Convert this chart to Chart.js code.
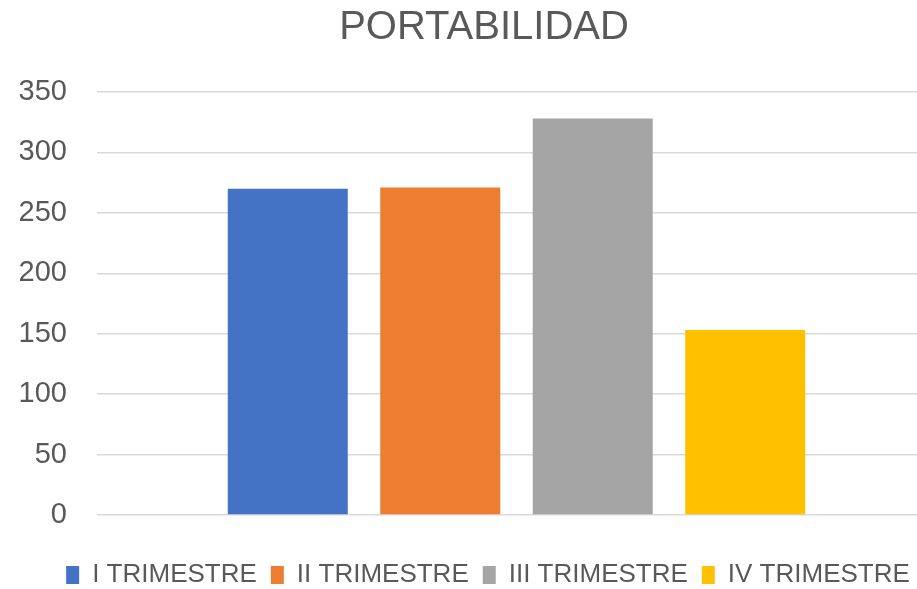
<!DOCTYPE html>
<html>
<head>
<meta charset="utf-8">
<script src="https://cdn.jsdelivr.net/npm/chart.js@4"></script>
<style>
  html, body { margin: 0; padding: 0; background: #ffffff; overflow: hidden; }
  #wrap { width: 917px; height: 589px; overflow: hidden; }
</style>
</head>
<body>
<div id="wrap"><canvas id="chart" width="970" height="589"></canvas></div>
<script>
// Chart data
const categories = ["PORTABILIDAD"];
const seriesNames = ["I TRIMESTRE", "II TRIMESTRE", "III TRIMESTRE", "IV TRIMESTRE"];
const seriesValues = [270, 271, 328, 153];
const seriesColors = ["#4472C4", "#ED7D31", "#A5A5A5", "#FFC000"];
const yTicks = [0, 50, 100, 150, 200, 250, 300, 350];

const textColor = "#595959";
const fontFamily = "'Liberation Sans', Arial, sans-serif";

// one dataset per quarter so each gets its own legend entry
const datasets = seriesNames.map(function (name, i) {
  return {
    label: name,
    data: [seriesValues[i]],
    backgroundColor: seriesColors[i],
    borderWidth: 0,
  };
});

// nudge title and legend sideways, the plot area runs past the right edge
const shiftBlocks = {
  id: "shiftBlocks",
  afterLayout: function (chart) {
    if (chart.legend) {
      chart.legend.left += 20;
      chart.legend.right += 20;
    }
    if (chart.titleBlock) {
      chart.titleBlock.left += 16;
      chart.titleBlock.right += 16;
    }
  },
};

const ctx = document.getElementById("chart").getContext("2d");

new Chart(ctx, {
  type: "bar",
  data: {
    labels: categories,
    datasets: datasets,
  },
  plugins: [shiftBlocks],
  options: {
    responsive: false,
    devicePixelRatio: 1,
    animation: false,
    categoryPercentage: 0.727,
    barPercentage: 0.787,
    layout: {
      padding: { left: 0, right: 34, top: 0, bottom: -9 },
    },
    scales: {
      x: {
        ticks: { display: false },
        grid: { display: false },
        border: { display: false },
        afterFit: function (scale) {
          scale.height = 33;
        },
      },
      y: {
        min: yTicks[0],
        max: yTicks[yTicks.length - 1],
        afterBuildTicks: function (scale) {
          scale.ticks = yTicks.map(function (v) {
            return { value: v };
          });
        },
        afterFit: function (scale) {
          scale.width = 97;
        },
        ticks: {
          color: textColor,
          padding: 30,
          font: { family: fontFamily, size: 29 },
        },
        grid: {
          color: "#d9d9d9",
          lineWidth: 1.5,
          drawTicks: false,
        },
        border: { display: false },
      },
    },
    plugins: {
      title: {
        display: true,
        text: "PORTABILIDAD",
        color: textColor,
        font: { family: fontFamily, size: 40, weight: "normal" },
        padding: { top: 4, bottom: 40 },
      },
      legend: {
        position: "bottom",
        labels: {
          color: textColor,
          font: { family: fontFamily, size: 26 },
          boxWidth: 13,
          boxHeight: 18,
          padding: 14,
        },
      },
      tooltip: { enabled: false },
    },
  },
});
</script>
</body>
</html>
